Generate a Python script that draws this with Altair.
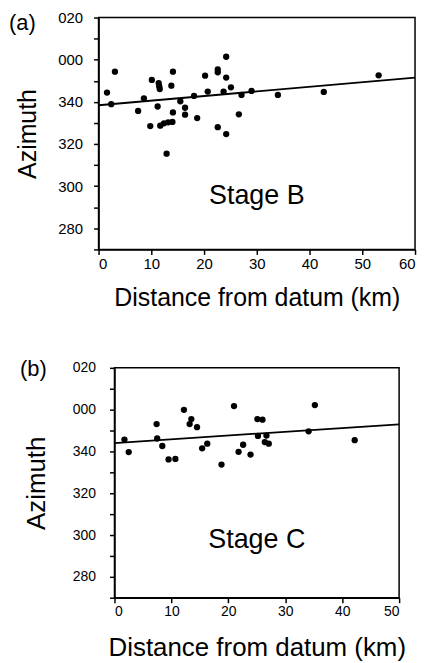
import altair as alt
import pandas as pd

FONT = "Liberation Sans"

# ---- Panel (a): Stage B ----
b_dist = [1.6, 2.4, 3.1, 7.5, 8.6, 9.8, 10.1, 11.2, 11.4, 11.5, 11.6, 11.7, 12.4, 13.2, 14.0,
          12.9, 13.8, 14.1, 14.1, 15.5, 16.4, 16.4, 18.1, 18.7, 20.2, 20.7, 22.6, 22.6,
          22.6, 23.7, 24.2, 24.2, 24.2, 25.1, 26.6, 27.1, 29.0, 34.0, 42.7, 53.1]
b_azim = [344.4, 338.9, 354.3, 335.7, 341.7, 328.5, 350.4, 337.8, 348.9, 347.4, 346.1, 328.7,
          329.8, 330.3, 330.5, 315.4, 347.7, 354.3, 335.0, 340.3, 337.2, 333.9, 342.8, 332.3,
          352.4, 344.9, 355.4, 354.0, 328.0, 344.9, 361.4, 351.5, 324.7, 346.9, 334.1, 343.3,
          345.2, 343.3, 344.7, 352.6]
b_fit_x = [0, 60]
b_fit_y = [338.4, 351.5]

# ---- Panel (b): Stage C ----
c_dist = [1.75, 2.5, 7.4, 7.5, 8.4, 9.5, 10.7, 12.2, 13.2, 13.5, 14.5, 15.4, 16.3, 18.8,
          21.0, 21.8, 22.6, 23.9, 25.1, 25.2, 26.0, 26.4, 26.7, 27.1, 34.1, 35.2, 42.2]
c_azim = [345.7, 339.7, 353.1, 346.2, 342.6, 336.2, 336.4, 359.9, 353.1, 355.5, 351.6, 341.5,
          343.7, 333.7, 361.7, 339.8, 343.2, 338.5, 355.5, 347.4, 355.2, 344.5, 347.6, 343.7,
          349.6, 362.2, 345.4]
c_fit_x = [0, 50]
c_fit_y = [344.0, 353.0]

y_ticks = [270, 280, 290, 300, 310, 320, 330, 340, 350, 360, 370, 380]
label_expr = ("datum.value == 360 ? '000' : (datum.value == 380 ? '020' : "
              "(datum.value % 20 == 0 ? datum.label : ''))")

X_TITLE = "Distance from datum (km)"
Y_TITLE = "Azimuth"


def panel(dist, azim, fit_x, fit_y, xmax, xticks, stage, stage_x, stage_y, tag, tag_x, tag_y,
          w, h, lab_size, title_size, y_lab_pad, y_title_pad, x_title_pad):
    pts = pd.DataFrame({"d": dist, "a": azim})
    fit = pd.DataFrame({"d": fit_x, "a": fit_y})
    txt = pd.DataFrame({"d": [stage_x], "a": [stage_y], "t": [stage]})
    tagdf = pd.DataFrame({"t": [tag]})

    xs = alt.Scale(domain=[0, xmax], nice=False, zero=False)
    ys = alt.Scale(domain=[270, 380], nice=False, zero=False)
    xax = alt.Axis(values=xticks, grid=False, tickSize=5, labelPadding=2,
                   labelFontSize=lab_size, titleFontSize=title_size, titlePadding=x_title_pad,
                   titleFontWeight="normal", labelFont=FONT, titleFont=FONT,
                   domainColor="black", tickColor="black", labelColor="black",
                   titleColor="black", domainWidth=1.5, tickWidth=1.5)
    yax = alt.Axis(values=y_ticks, labelExpr=label_expr, grid=False, tickSize=5,
                   labelPadding=y_lab_pad, labelFontSize=lab_size, titleFontSize=title_size,
                   titlePadding=y_title_pad, titleFontWeight="normal", labelFont=FONT,
                   titleFont=FONT, domainColor="black", tickColor="black",
                   labelColor="black", titleColor="black", domainWidth=1.5, tickWidth=1.5)
    X = alt.X("d:Q", scale=xs, axis=xax, title=X_TITLE)
    Y = alt.Y("a:Q", scale=ys, axis=yax, title=Y_TITLE)

    p = alt.Chart(pts).mark_circle(size=40, color="black", opacity=1).encode(x=X, y=Y)
    ln = alt.Chart(fit).mark_line(color="black", strokeWidth=1.8).encode(x=X, y=Y)
    st = alt.Chart(txt).mark_text(font=FONT, fontSize=27, color="black",
                                  baseline="alphabetic", align="center").encode(
        x=X, y=Y, text="t:N")
    tg = alt.Chart(tagdf).mark_text(font=FONT, fontSize=22, color="black",
                                    baseline="alphabetic", align="left").encode(
        x=alt.value(tag_x), y=alt.value(tag_y), text="t:N")
    return alt.layer(p, ln, st, tg).properties(width=w, height=h)


pa = panel(b_dist, b_azim, b_fit_x, b_fit_y, 60, [0, 10, 20, 30, 40, 50, 60],
           "Stage B", 30, 291.4, "(a)", -90, 13, 318, 233, 15, 25, 11, 17, 14)
pb = panel(c_dist, c_azim, c_fit_x, c_fit_y, 50, [0, 10, 20, 30, 40, 50],
           "Stage C", 25, 294, "(b)", -95, 8, 286, 231, 14, 26, 14, 23, 16)

chart = alt.vconcat(pa, pb, spacing=119, center=True, bounds="flush").properties(
    padding={"left": 0, "top": 0, "right": 0, "bottom": 0}, background="white"
).configure_view(stroke="black", strokeWidth=1.5)

chart.save("out.html", embed_options={"renderer": "svg", "actions": False})
